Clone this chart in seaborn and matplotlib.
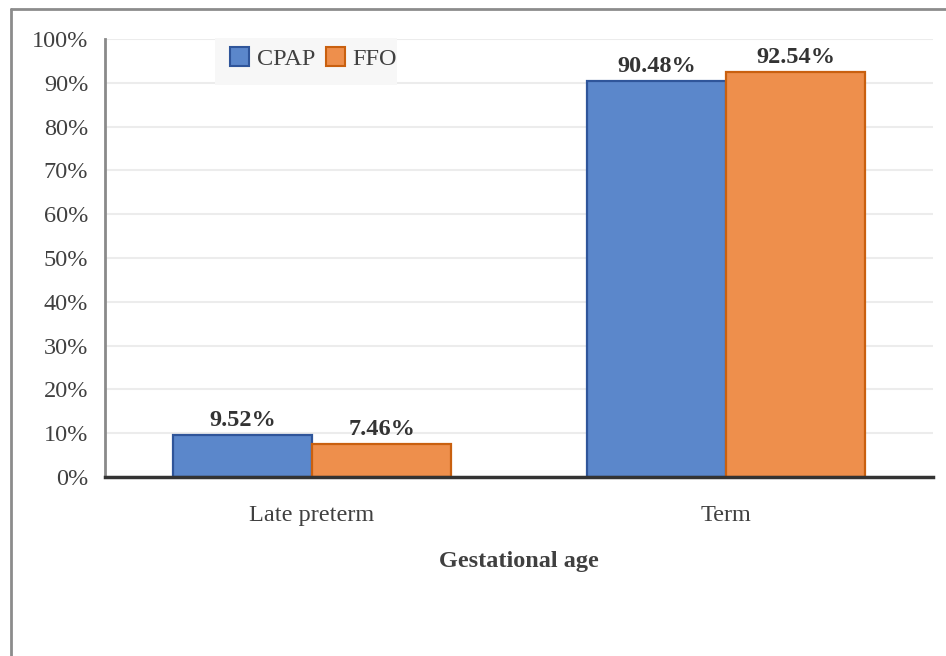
import matplotlib
matplotlib.use("Agg")
import matplotlib.pyplot as plt
from matplotlib.lines import Line2D
from matplotlib.patches import Rectangle
from matplotlib.ticker import FuncFormatter
import seaborn as sns
import pandas as pd

# Data
categories = ["Late preterm", "Term"]
groups = ["CPAP", "FFO"]
cpap_values = [9.52, 90.48]
ffo_values = [7.46, 92.54]
y_ticks = [0, 10, 20, 30, 40, 50, 60, 70, 80, 90, 100]

fill_colors = {"CPAP": "#5b87cb", "FFO": "#ee8f4c"}
edge_colors = {"CPAP": "#2f559a", "FFO": "#c9600f"}

df = pd.DataFrame({
    "Gestational age": categories * 2,
    "group": ["CPAP"] * len(categories) + ["FFO"] * len(categories),
    "value": cpap_values + ffo_values,
})

sns.set_theme(style="white")
plt.rcParams["font.family"] = ["Liberation Serif", "DejaVu Serif"]

fig = plt.figure(figsize=(9.46, 6.56), dpi=100)
ax = fig.add_axes([0.111, 0.2729, 0.8753, 0.6676])

sns.barplot(data=df, x="Gestational age", y="value", hue="group",
            hue_order=groups, order=categories, palette=fill_colors,
            width=0.672, gap=0, ax=ax, saturation=1, legend=True)

for container, g in zip(ax.containers, groups):
    for bar in container:
        bar.set_edgecolor(edge_colors[g])
        bar.set_linewidth(1.6)
    ax.bar_label(container, labels=[f"{v:.2f}%" for v in container.datavalues],
                 padding=3, fontsize=17.5, fontweight="bold", color="#333333")

ax.set_xlim(-0.5, 1.5)
ax.set_ylim(0, 100)
ax.set_yticks(y_ticks)
ax.yaxis.set_major_formatter(FuncFormatter(lambda v, p: f"{v:.0f}%"))
ax.grid(axis="y", color="#ececec", linewidth=1.5)
ax.set_axisbelow(True)

ax.tick_params(axis="y", length=0, pad=12, labelsize=17.5, labelcolor="#404040")
ax.tick_params(axis="x", length=0, pad=20, labelsize=17.5, labelcolor="#404040")
ax.set_ylabel("")
ax.set_xlabel("Gestational age", fontsize=17.5, fontweight="bold",
              color="#404040", labelpad=18)

for side in ["top", "right"]:
    ax.spines[side].set_visible(False)
ax.spines["left"].set_color("#8a8a8a")
ax.spines["left"].set_linewidth(2)
ax.spines["bottom"].set_color("#333333")
ax.spines["bottom"].set_linewidth(2.5)

# legend with a light grey backdrop
ax.add_patch(Rectangle((0.133, 0.895), 0.22, 0.107, transform=ax.transAxes,
                       facecolor="#f7f7f7", edgecolor="none", zorder=1.5,
                       clip_on=False))
handles = [plt.Rectangle((0, 0), 1, 1, facecolor=fill_colors[g],
                         edgecolor=edge_colors[g], linewidth=1.5) for g in groups]
leg = ax.legend(handles, groups, loc="center left", bbox_to_anchor=(0.1515, 0.955),
                ncol=2, frameon=False, fontsize=17.5, handlelength=0.78,
                handleheight=0.78, handletextpad=0.3, columnspacing=0.45,
                borderpad=0, borderaxespad=0)
for t in leg.get_texts():
    t.set_color("#404040")

# outer frame lines
fig.add_artist(Line2D([11 / 946, 11 / 946], [0, 1 - 9 / 656],
                      transform=fig.transFigure, color="#8c8c8c", linewidth=2))
fig.add_artist(Line2D([11 / 946, 1], [1 - 9 / 656, 1 - 9 / 656],
                      transform=fig.transFigure, color="#8c8c8c", linewidth=2))

fig.savefig("out.png", dpi=100)
